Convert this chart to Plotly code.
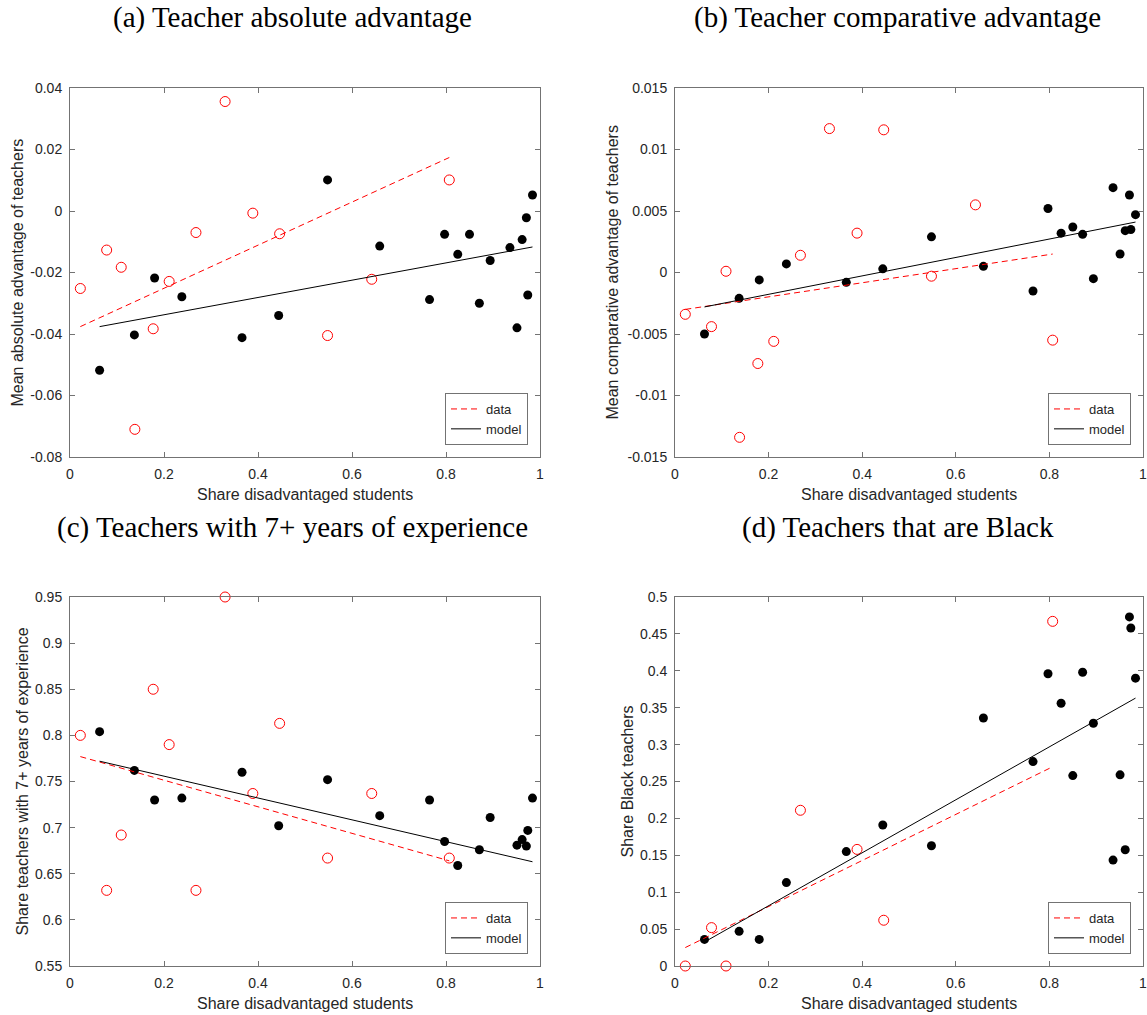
import plotly.graph_objects as go

# ---------------- data ----------------
x_red = [0.022, 0.078, 0.109, 0.138, 0.177, 0.211, 0.268, 0.330, 0.389, 0.446, 0.548, 0.642, 0.807]
x_black = [0.063, 0.137, 0.180, 0.238, 0.366, 0.444, 0.548, 0.659, 0.765, 0.797,
           0.825, 0.850, 0.871, 0.894, 0.936, 0.951, 0.962, 0.971, 0.974, 0.984]

# (a) Teacher absolute advantage
a_red = [-0.0252, -0.0127, -0.0183, -0.0710, -0.0383, -0.0229, -0.0070, 0.0356, -0.0007,
         -0.0074, -0.0405, -0.0222, 0.0101]
a_black = [-0.0518, -0.0403, -0.0218, -0.0279, -0.0412, -0.0340, 0.0101, -0.0114, -0.0288, -0.0076,
           -0.0141, -0.0076, -0.0300, -0.0161, -0.0119, -0.0380, -0.0093, -0.0022, -0.0273, 0.0052]
a_fit_data = [-0.0376, 0.0174]
a_fit_model = [-0.0376, -0.0117]

# (b) Teacher comparative advantage
b_red = [-0.0034, -0.0044, 0.0001, -0.0134, -0.0074, -0.0056, 0.0014, 0.0117, 0.0032,
         0.0116, -0.0003, 0.0055, -0.0055]
b_black = [-0.0050, -0.0021, -0.0006, 0.0007, -0.0008, 0.0003, 0.0029, 0.0005, -0.0015, 0.0052,
           0.0032, 0.0037, 0.0031, -0.0005, 0.0069, 0.0015, 0.0034, 0.0063, 0.0035, 0.0047]
b_fit_data = [-0.0030, 0.0015]
b_fit_model = [-0.0028, 0.0041]

# (c) Teachers with 7+ years of experience
c_red = [0.800, 0.632, 0.692, None, 0.850, 0.790, 0.632, 0.950, 0.737, 0.813, 0.667, 0.737, 0.667]
c_black = [0.804, 0.762, 0.730, 0.732, 0.760, 0.702, 0.752, 0.713, 0.730, 0.685,
           0.659, None, 0.676, 0.711, None, 0.681, 0.687, 0.680, 0.697, 0.732]
c_fit_data = [0.777, 0.664]
c_fit_model = [0.772, 0.663]

# (d) Teachers that are Black
d_red = [0.000, 0.052, 0.000, None, None, None, 0.211, None, 0.158, 0.062, None, None, 0.467]
d_black = [0.036, 0.047, 0.036, 0.113, 0.155, 0.191, 0.163, 0.336, 0.277, 0.396,
           0.356, 0.258, 0.398, 0.329, 0.1435, 0.259, 0.1575, 0.473, 0.458, 0.390]
d_fit_data = [0.025, 0.270]
d_fit_model = [0.0325, 0.363]

x_tickvals = [0, 0.2, 0.4, 0.6, 0.8, 1]
x_ticktext = ["0", "0.2", "0.4", "0.6", "0.8", "1"]
a_tickvals = [-0.08, -0.06, -0.04, -0.02, 0, 0.02, 0.04]
a_ticktext = ["-0.08", "-0.06", "-0.04", "-0.02", "0", "0.02", "0.04"]
b_tickvals = [-0.015, -0.01, -0.005, 0, 0.005, 0.01, 0.015]
b_ticktext = ["-0.015", "-0.01", "-0.005", "0", "0.005", "0.01", "0.015"]
c_tickvals = [0.55, 0.6, 0.65, 0.7, 0.75, 0.8, 0.85, 0.9, 0.95]
c_ticktext = ["0.55", "0.6", "0.65", "0.7", "0.75", "0.8", "0.85", "0.9", "0.95"]
d_tickvals = [0, 0.05, 0.1, 0.15, 0.2, 0.25, 0.3, 0.35, 0.4, 0.45, 0.5]
d_ticktext = ["0", "0.05", "0.1", "0.15", "0.2", "0.25", "0.3", "0.35", "0.4", "0.45", "0.5"]

titles = ["(a) Teacher absolute advantage", "(b) Teacher comparative advantage",
          "(c) Teachers with 7+ years of experience", "(d) Teachers that are Black"]
y_labels = ["Mean absolute advantage of teachers", "Mean comparative advantage of teachers",
            "Share teachers with 7+ years of experience", "Share Black teachers"]
x_label = "Share disadvantaged students"
legend_names = ["data", "model"]

# ---------------- layout geometry (pixels) ----------------
W, H = 1147, 1015
def px(x):
    return x / W
def py(y):
    return 1 - y / H

# left, right, top, bottom of each plot box
boxes = [(70, 540, 88, 457), (675, 1143, 88, 457), (70, 540, 597, 966), (675, 1143, 597, 966)]
title_pos = [(292, 17), (898, 17), (292, 527), (898, 527)]
ylabel_x = [17, 612, 22, 627]

panels = [
    (a_red, a_black, a_fit_data, a_fit_model, [-0.08, 0.04], a_tickvals, a_ticktext),
    (b_red, b_black, b_fit_data, b_fit_model, [-0.015, 0.015], b_tickvals, b_ticktext),
    (c_red, c_black, c_fit_data, c_fit_model, [0.55, 0.95], c_tickvals, c_ticktext),
    (d_red, d_black, d_fit_data, d_fit_model, [0, 0.5], d_tickvals, d_ticktext),
]

AX = "#737373"
TXT = "#262626"
SANS = "Liberation Sans, Arial, sans-serif"
SERIF = "Liberation Serif, Times New Roman, serif"

fig = go.Figure()
annotations = []
layout = dict(width=W, height=H, margin=dict(l=0, r=0, t=0, b=0, autoexpand=False),
              plot_bgcolor="white", paper_bgcolor="white", showlegend=True)

for i, (yr, yb, fd, fm, yrange, ytv, ytt) in enumerate(panels):
    n = i + 1
    xa = "x" if n == 1 else f"x{n}"
    ya = "y" if n == 1 else f"y{n}"
    lg = "legend" if n == 1 else f"legend{n}"
    l, r, t, b = boxes[i]

    fig.add_trace(go.Scatter(x=x_red, y=yr, mode="markers", xaxis=xa, yaxis=ya,
                             marker=dict(symbol="circle-open", size=10, color="#ff0000",
                                         line=dict(width=1, color="#ff0000")),
                             showlegend=False, cliponaxis=False, hoverinfo="skip"))
    fig.add_trace(go.Scatter(x=x_black, y=yb, mode="markers", xaxis=xa, yaxis=ya,
                             marker=dict(symbol="circle", size=9, color="#000000"),
                             showlegend=False, cliponaxis=False, hoverinfo="skip"))
    fig.add_trace(go.Scatter(x=[x_red[0], x_red[-1]], y=fd, mode="lines", xaxis=xa, yaxis=ya,
                             line=dict(color="#ff0000", width=1, dash="6px,4px"),
                             name=legend_names[0], legend=lg, showlegend=True, hoverinfo="skip"))
    fig.add_trace(go.Scatter(x=[x_black[0], x_black[-1]], y=fm, mode="lines", xaxis=xa, yaxis=ya,
                             line=dict(color="#000000", width=1),
                             name=legend_names[1], legend=lg, showlegend=True, hoverinfo="skip"))

    common = dict(showline=True, linecolor=AX, linewidth=1, mirror="ticks", ticks="inside",
                  ticklen=5, tickwidth=1, tickcolor=AX, showgrid=False, zeroline=False,
                  automargin=False, ticklabeloverflow="allow",
                  tickfont=dict(family=SANS, size=14, color=TXT), ticklabelstandoff=4)
    layout["xaxis" if n == 1 else f"xaxis{n}"] = dict(
        domain=[px(l), px(r)], anchor=ya, range=[0, 1], tickvals=x_tickvals, ticktext=x_ticktext, **common)
    layout["yaxis" if n == 1 else f"yaxis{n}"] = dict(
        domain=[py(b), py(t)], anchor=xa, range=yrange, tickvals=ytv, ticktext=ytt, **common)

    layout[lg] = dict(x=px(r - 12), y=py(b - 12), xanchor="right", yanchor="bottom",
                      bgcolor="white", bordercolor=AX, borderwidth=1,
                      font=dict(family=SANS, size=13, color=TXT), tracegroupgap=0,
                      itemwidth=30)

    tx, ty = title_pos[i]
    annotations.append(dict(text=titles[i], x=px(tx), y=py(ty), xref="paper", yref="paper",
                            xanchor="center", yanchor="middle", showarrow=False,
                            font=dict(family=SERIF, size=29, color="#000000")))
    annotations.append(dict(text=y_labels[i], x=px(ylabel_x[i]), y=py((t + b) / 2), xref="paper",
                            yref="paper", xanchor="center", yanchor="middle", textangle=-90,
                            showarrow=False, font=dict(family=SANS, size=16, color=TXT)))
    annotations.append(dict(text=x_label, x=px((l + r) / 2), y=py(b + 37), xref="paper",
                            yref="paper", xanchor="center", yanchor="middle", showarrow=False,
                            font=dict(family=SANS, size=16, color=TXT)))

layout["annotations"] = annotations
fig.update_layout(**layout)
fig.write_html("out.html", config={"displayModeBar": False},
               post_script="document.documentElement.style.overflow='hidden';"
                           "document.body.style.margin='0px';document.body.style.overflow='hidden';")
